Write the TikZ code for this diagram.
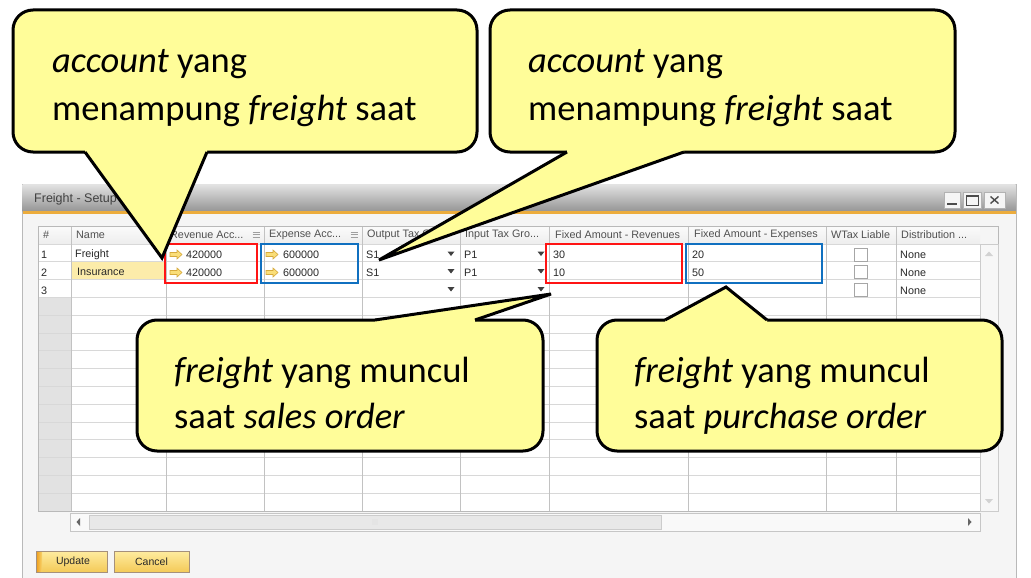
\documentclass[tikz,border=0pt]{standalone}
\usepackage{fontspec}
\setmainfont{Carlito}
\newfontfamily\uifont{Liberation Sans}
\definecolor{calloutfill}{RGB}{255,253,153}
\definecolor{winbg}{RGB}{245,245,245}
\definecolor{gridline}{RGB}{216,216,216}
\definecolor{rowhead}{RGB}{226,226,226}
\definecolor{redbox}{RGB}{255,20,20}
\definecolor{bluebox}{RGB}{16,112,192}
\definecolor{titleorange}{RGB}{236,172,60}
\definecolor{insfill}{RGB}{252,236,170}
\definecolor{arrowfill}{RGB}{250,222,120}
\definecolor{arrowdraw}{RGB}{215,170,60}
\definecolor{btntop}{RGB}{254,236,160}
\definecolor{btnbot}{RGB}{244,202,88}
\definecolor{btnorange}{RGB}{240,160,30}
\definecolor{uitext}{RGB}{40,40,40}
\definecolor{hdrtext}{RGB}{80,80,80}
\tikzset{
  callbox/.style={fill=calloutfill, draw=black, line width=3pt, rounded corners=20pt},
  callfill/.style={fill=calloutfill},
  callline/.style={draw=black, line width=3pt, line join=miter},
  calltext/.style={font=\fontsize{36.5}{44}\selectfont, inner sep=0pt, anchor=base west},
  tbl/.style={font=\uifont\fontsize{10.8}{12}\selectfont, text=uitext, inner sep=0pt, anchor=west},
  hdr/.style={font=\uifont\fontsize{10.8}{12}\selectfont, text=hdrtext, inner sep=0pt, anchor=west},
  gridh/.style={draw=gridline, line width=0.8pt},
  gridv/.style={draw=gridline!90!black, line width=0.8pt},
  markbox/.style={line width=2.5pt},
  yarrow/.pic={\filldraw[fill=arrowfill, draw=arrowdraw, line width=0.6pt]
      (0,-2) -- (7,-2) -- (7,-4.5) -- (12,0) -- (7,4.5) -- (7,2) -- (0,2) -- cycle;},
  ddarrow/.pic={\fill[black!75] (-3.5,-2) -- (3.5,-2) -- (0,2.5) -- cycle;},
  chk/.pic={\filldraw[fill=white, draw=gray!70] (-6.5,-6.5) rectangle (6.5,6.5);},
  menuicon/.pic={\draw[gray!75, line width=0.8pt] (-3.5,-2.5) -- (3.5,-2.5) (-3.5,0) -- (3.5,0) (-3.5,2.5) -- (3.5,2.5);},
  uibtn/.style={top color=btntop, bottom color=btnbot, draw=black!45!brown!60, line width=0.8pt},
}
\begin{document}
\begin{tikzpicture}[x=1pt,y=-1pt]
\useasboundingbox (0,0) rectangle (1031,578);
\fill[white] (0,0) rectangle (1031,578);

% ---------- window ----------
\filldraw[fill=winbg, draw=gray!55, line width=0.8pt] (22,184) rectangle (1016,590);
\shade[top color={rgb,255:red,226;green,226;blue,226}, bottom color={rgb,255:red,150;green,150;blue,150}] (22.5,184.5) rectangle (1015.5,211);
\fill[titleorange] (22.5,211) rectangle (1015.5,214);
\node[anchor=west, font=\uifont\fontsize{12.5}{14}\selectfont, text=black!75, inner sep=0pt] (title) at (34,199) {Freight - Setup};
% window buttons
\filldraw[fill=gray!8, draw=gray!60] (944,192) rectangle (960,208);
\fill[black!70] (947,202.5) rectangle (957,205);
\filldraw[fill=gray!8, draw=gray!60] (963,192) rectangle (981,208);
\draw[black!70, line width=1pt] (966,195.5) rectangle (978,205);
\draw[black!70, line width=2pt] (966,196) -- (978,196);
\filldraw[fill=gray!8, draw=gray!60] (984,192) rectangle (1005,208);
\draw[black!70, line width=1.4pt] (990.5,196.5) -- (998.5,203.5) (998.5,196.5) -- (990.5,203.5);

% ---------- grid ----------
\fill[white] (38,244) rectangle (980,511);
\shade[top color=gray!3, bottom color=gray!14] (38,226) rectangle (980,244);
\fill[rowhead] (38,297.4) rectangle (71,511);
\fill[insfill] (71,261.8) rectangle (166,279.6);
\foreach \k in {0,...,15} \draw[gridh] (38,{244+\k*17.8}) -- (980,{244+\k*17.8});
\foreach \x in {71,166,264,362,460,549,688,826,896} \draw[gridv] (\x,226) -- (\x,511);
\draw[gray!55, line width=0.8pt] (38,226) rectangle (998,511);
% vertical scrollbar
\filldraw[fill=gray!6, draw=gray!40] (980,244) rectangle (998,511);
\fill[gray!35] (985,256) -- (993,256) -- (989,251.5) -- cycle;
\fill[gray!35] (985,499) -- (993,499) -- (989,503.5) -- cycle;
% horizontal scrollbar
\filldraw[fill=gray!5, draw=gray!45, line width=0.8pt] (70,513) rectangle (980,531);
\filldraw[fill=gray!18, draw=gray!40, line width=0.8pt] (89,515) rectangle (661,529);
\fill[black!60] (80,518) -- (80,526) -- (76.5,522) -- cycle;
\fill[black!60] (968,518) -- (968,526) -- (971.5,522) -- cycle;
\foreach \dx in {-2,0,2} \foreach \dy in {-2,0,2} \fill[gray!55] ({375+\dx},{522+\dy}) circle (0.45pt);

% header texts
\node[hdr] (h0) at (43,235) {\#};
\node[hdr] (h1) at (76,235) {Name};
\node[hdr] (h2) at (170,235) {Revenue Acc...};
\pic at (256,234.5) {menuicon};
\node[hdr] (h3) at (269,235) {Expense Acc...};
\pic at (354,234.5) {menuicon};
\node[hdr] (h4) at (367,235) {Output Tax Gro...};
\node[hdr] (h5) at (465,235) {Input Tax Gro...};
\node[hdr] (h6) at (555,235) {Fixed Amount - Revenues};
\node[hdr] (h7) at (694,235) {Fixed Amount - Expenses};
\node[hdr] (h8) at (831,235) {WTax Liable};
\node[hdr] (h9) at (901,235) {Distribution ...};

% row 1
\node[tbl] (r1n) at (41,254.5) {1};
\node[tbl] (r1a) at (75,254.5) {Freight};
\pic at (170,254.5) {yarrow};
\node[tbl] (r1b) at (186,254.5) {420000};
\pic at (266,254.5) {yarrow};
\node[tbl] (r1c) at (283,254.5) {600000};
\node[tbl] (r1d) at (366,254.5) {S1};
\pic at (451,253.5) {ddarrow};
\node[tbl] (r1e) at (464,254.5) {P1};
\pic at (541,253.5) {ddarrow};
\node[tbl] (r1f) at (553,254.5) {30};
\node[tbl] (r1g) at (692,254.5) {20};
\pic at (861,254.5) {chk};
\node[tbl] (r1h) at (900,255) {None};
% row 2
\node[tbl] (r2n) at (41,272.5) {2};
\node[tbl] (r2a) at (77,272) {Insurance};
\pic at (170,272.5) {yarrow};
\node[tbl] (r2b) at (186,272.5) {420000};
\pic at (266,272.5) {yarrow};
\node[tbl] (r2c) at (283,272.5) {600000};
\node[tbl] (r2d) at (366,272.5) {S1};
\pic at (451,271) {ddarrow};
\node[tbl] (r2e) at (464,272.5) {P1};
\pic at (541,271) {ddarrow};
\node[tbl] (r2f) at (553,272.5) {10};
\node[tbl] (r2g) at (692,272.5) {50};
\pic at (861,272) {chk};
\node[tbl] (r2h) at (900,273) {None};
% row 3
\node[tbl] (r3n) at (41,290.5) {3};
\pic at (451,289) {ddarrow};
\pic at (541,289) {ddarrow};
\pic at (861,290) {chk};
\node[tbl] (r3h) at (900,291) {None};

% marked boxes
\draw[markbox, redbox] (165,244) rectangle (257,283);
\draw[markbox, bluebox] (261,244) rectangle (358,283);
\draw[markbox, redbox] (546,244) rectangle (682,283);
\draw[markbox, bluebox] (686,244) rectangle (822,283);

% bottom buttons
\path[uibtn] (36,551) rectangle (107,572);
\fill[left color=btnorange, right color=btnbot!70!btntop] (36.5,551.5) rectangle (42,571.5);
\draw[draw=black!45!brown!60, line width=0.8pt] (36,551) rectangle (107,572);
\node[font=\uifont\fontsize{10.5}{12}\selectfont, text=uitext] (upd) at (73,561.5) {Update};
\path[uibtn] (114,551) rectangle (189,572);
\node[font=\uifont\fontsize{10.5}{12}\selectfont, text=uitext] (cnl) at (151.5,561.5) {Cancel};

% ---------- callouts ----------
% callout 1
\path[callbox] (13,10) rectangle (477,152);
\fill[callfill] (85,144) -- (85,152) -- (162,258) -- (207,152) -- (207,144) -- cycle;
\draw[callline] (85,152) -- (162,258) -- (207,152);
\node[calltext] (c1a) at (52,73) {\textit{account} yang};
\node[calltext] (c1b) at (52,120) {menampung \textit{freight} saat};
% callout 2
\path[callbox] (490,10) rectangle (955,152);
\fill[callfill] (567,144) -- (567,152) -- (379,260) -- (684,152) -- (684,144) -- cycle;
\draw[callline] (567,152) -- (379,260) -- (684,152);
\node[calltext] (c2a) at (528,73) {\textit{account} yang};
\node[calltext] (c2b) at (528,120) {menampung \textit{freight} saat};
% callout 3
\path[callbox] (137,320) rectangle (543,451);
\fill[callfill] (375,328) -- (375,320) -- (551,294) -- (475,320) -- (475,328) -- cycle;
\draw[callline] (375,320) -- (551,294) -- (475,320);
\node[calltext] (c3a) at (174,382) {\textit{freight} yang muncul};
\node[calltext] (c3b) at (174,428) {saat \textit{sales order}};
% callout 4
\path[callbox] (597,320) rectangle (1002,451);
\fill[callfill] (665,328) -- (665,320) -- (726,287) -- (767,320) -- (767,328) -- cycle;
\draw[callline] (665,320) -- (726,287) -- (767,320);
\node[calltext] (c4a) at (634,382) {\textit{freight} yang muncul};
\node[calltext] (c4b) at (634,428) {saat \textit{purchase order}};
\end{tikzpicture}
\end{document}
